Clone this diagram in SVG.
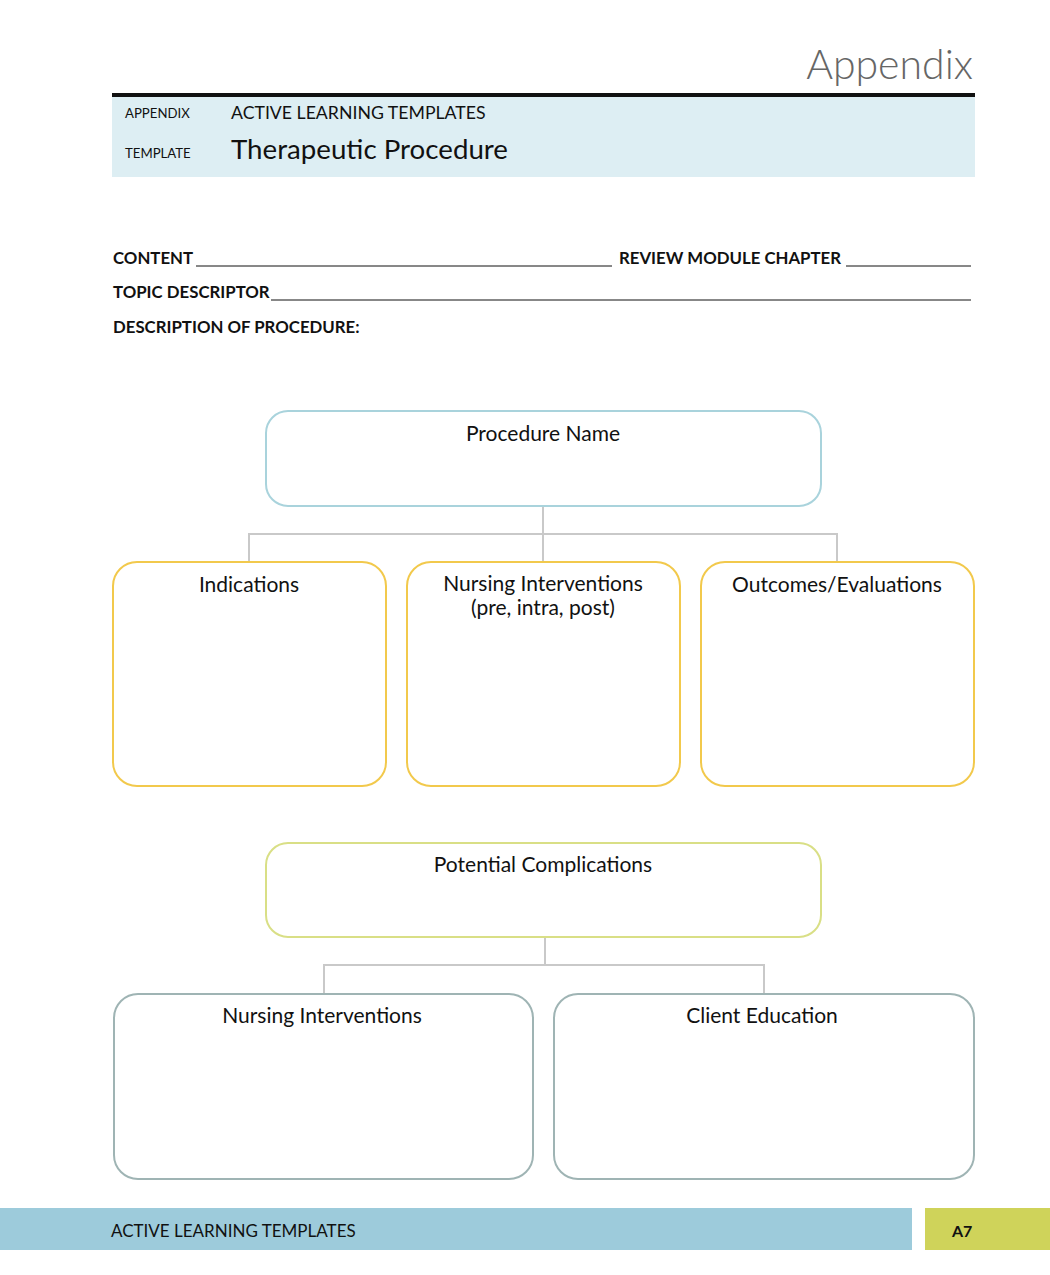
<svg xmlns="http://www.w3.org/2000/svg" width="1050" height="1275" viewBox="0 0 1050 1275">
<style>
text{font-family:Lato,"Open Sans","Liberation Sans",sans-serif;fill:#111}
.lbl{font-size:21px;text-anchor:middle}
.form{font-size:16.8px;font-weight:bold}
.node{fill:#fff;stroke-width:2}
.conn{fill:none;stroke:#c9c9c9;stroke-width:2}
</style>
<rect width="1050" height="1275" fill="#fff"/>
<text x="973" y="79" font-size="41" text-anchor="end" style="fill:#666;font-weight:300">Appendix</text>
<rect x="112" y="93" width="863" height="4" fill="#111"/>
<rect x="112" y="97" width="863" height="80" fill="#ddeef3"/>
<text x="125" y="118" font-size="13.2">APPENDIX</text>
<text x="231" y="119" font-size="17.7">ACTIVE LEARNING TEMPLATES</text>
<text x="125" y="158" font-size="13.2">TEMPLATE</text>
<text x="231" y="159" font-size="27.7">Therapeutic Procedure</text>
<text class="form" x="113" y="264">CONTENT</text>
<line x1="196" y1="266" x2="612" y2="266" stroke="#111" stroke-width="1"/>
<text class="form" x="619" y="264">REVIEW MODULE CHAPTER</text>
<line x1="846" y1="266" x2="971" y2="266" stroke="#111" stroke-width="1"/>
<text class="form" x="113" y="298">TOPIC DESCRIPTOR</text>
<line x1="271" y1="300" x2="971" y2="300" stroke="#111" stroke-width="1"/>
<text class="form" x="113" y="333">DESCRIPTION OF PROCEDURE:</text>
<g id="connectors">
<path class="conn" d="M543 506V562M249 562V534H837V562"/>
<path class="conn" d="M545 937V965M324 994V965H764V994"/>
</g>
<g id="procedure-name"><rect class="node" x="266" y="411" width="555" height="95" rx="22" stroke="#a9d3dc"/><text class="lbl" x="543" y="441">Procedure Name</text></g>
<g id="indications"><rect class="node" x="113" y="562" width="273" height="224" rx="24" stroke="#f2c94c"/><text class="lbl" x="249" y="592">Indications</text></g>
<g id="nursing-interventions-1"><rect class="node" x="407" y="562" width="273" height="224" rx="24" stroke="#f2c94c"/><text class="lbl" x="543" y="591">Nursing Interventions</text><text class="lbl" x="543" y="615">(pre, intra, post)</text></g>
<g id="outcomes"><rect class="node" x="701" y="562" width="273" height="224" rx="24" stroke="#f2c94c"/><text class="lbl" x="837" y="592">Outcomes/Evaluations</text></g>
<g id="potential-complications"><rect class="node" x="266" y="843" width="555" height="94" rx="22" stroke="#d9df86"/><text class="lbl" x="543" y="872">Potential Complications</text></g>
<g id="nursing-interventions-2"><rect class="node" x="114" y="994" width="419" height="185" rx="24" stroke="#9fb4b4"/><text class="lbl" x="322" y="1023">Nursing Interventions</text></g>
<g id="client-education"><rect class="node" x="554" y="994" width="420" height="185" rx="24" stroke="#9fb4b4"/><text class="lbl" x="762" y="1023">Client Education</text></g>
<rect x="0" y="1208" width="912" height="42" fill="#9dcbdb"/>
<text x="111" y="1237" font-size="17">ACTIVE LEARNING TEMPLATES</text>
<rect x="925" y="1208" width="125" height="42" fill="#cfd35a"/>
<text x="952" y="1237" font-size="16" font-weight="bold">A7</text>
</svg>
